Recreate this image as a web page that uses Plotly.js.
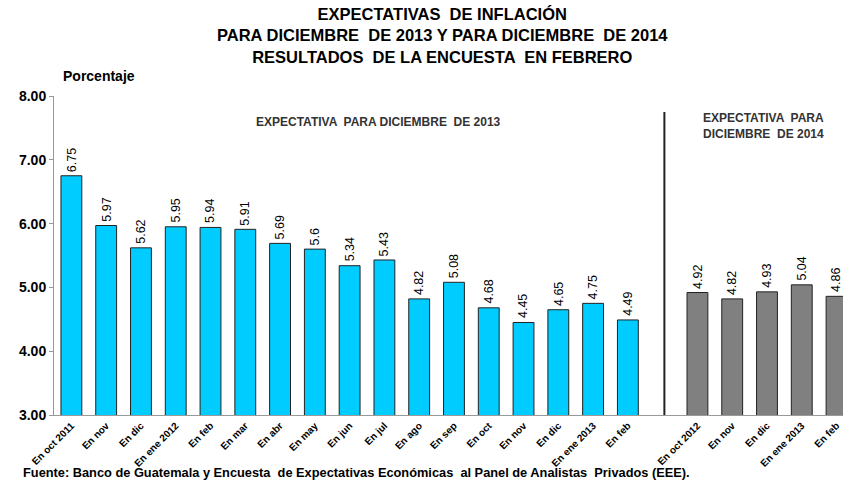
<!DOCTYPE html>
<html>
<head>
<meta charset="utf-8">
<script src="https://cdn.plot.ly/plotly-3.0.1.min.js"></script>
<style>html,body{margin:0;padding:0;background:#fff;}#chart{width:843px;height:481px;}</style>
</head>
<body>
<div id="chart"></div>
<script>
// Expectativa para diciembre de 2013
const labels2013 = ["En oct 2011","En nov","En dic","En ene 2012","En feb","En mar","En abr","En may","En jun","En jul","En ago","En sep","En oct","En nov","En dic","En ene 2013","En feb"];
const values2013 = [6.75,5.97,5.62,5.95,5.94,5.91,5.69,5.6,5.34,5.43,4.82,5.08,4.68,4.45,4.65,4.75,4.49];
// Expectativa para diciembre de 2014
const labels2014 = ["En oct 2012","En nov","En dic","En ene 2013","En feb"];
const values2014 = [4.92,4.82,4.93,5.04,4.86];
const yTicks = [3,4,5,6,7,8];

const FONT = "Liberation Sans, Arial, sans-serif";
const x2013 = labels2013.map((_, i) => i);
const gapSlot = labels2013.length;            // empty slot between groups
const x2014 = labels2014.map((_, i) => gapSlot + 1 + i);

const W = 843, H = 481, mL = 54, mR = 0, mT = 96, mB = 66;
const pw = W - mL - mR, ph = H - mT - mB;
const px2paperX = px => (px - mL) / pw;
const px2paperY = py => (H - mB - py) / ph;

const barStyle = (color) => ({
  color: color,
  line: {color: "#222", width: 1}
});

const traces = [
  {type: "bar", x: x2013, y: values2013, marker: barStyle("#00CCFF"), hoverinfo: "none", showlegend: false},
  {type: "bar", x: x2014, y: values2014, marker: barStyle("#808080"), hoverinfo: "none", showlegend: false}
];

const titleText = "<b>EXPECTATIVAS  DE INFLACIÓN<br>PARA DICIEMBRE  DE 2013 Y PARA DICIEMBRE  DE 2014<br>RESULTADOS  DE LA ENCUESTA  EN FEBRERO</b>";

const annotations = [{
  text: titleText, xref: "paper", yref: "paper",
  x: px2paperX(442), y: px2paperY(35), xanchor: "center", yanchor: "middle",
  align: "center", showarrow: false, font: {family: FONT, size: 16.5, color: "#000"}
}];

annotations.push(
  {text: "<b>Porcentaje</b>", xref: "paper", yref: "paper", x: px2paperX(61), y: px2paperY(76),
   xanchor: "left", yanchor: "middle", showarrow: false, font: {family: FONT, size: 14, color: "#000"}},
  {text: "<b>Fuente: Banco de Guatemala y Encuesta  de Expectativas Económicas  al Panel de Analistas  Privados (EEE).</b>",
   xref: "paper", yref: "paper", x: px2paperX(21), y: px2paperY(472),
   xanchor: "left", yanchor: "middle", showarrow: false, font: {family: FONT, size: 12.8, color: "#000"}},
  {text: "<b>EXPECTATIVA  PARA DICIEMBRE  DE 2013</b>", xref: "paper", yref: "paper",
   x: px2paperX(378), y: px2paperY(122), xanchor: "center", yanchor: "middle", showarrow: false,
   font: {family: FONT, size: 12, color: "#333"}},
  {text: "<b>EXPECTATIVA  PARA<br>DICIEMBRE  DE 2014</b>", xref: "paper", yref: "paper",
   x: px2paperX(763), y: px2paperY(126), xanchor: "center", yanchor: "middle", showarrow: false,
   align: "left", font: {family: FONT, size: 12, color: "#333"}}
);

// value labels above bars, rotated
const addLabels = (xs, vals) => xs.forEach((x, i) => annotations.push({
  text: String(vals[i]), x: x, y: vals[i], xref: "x", yref: "y",
  xanchor: "center", yanchor: "bottom", yshift: 2, textangle: -90,
  showarrow: false, font: {family: FONT, size: 12.5, color: "#000"}
}));
addLabels(x2013, values2013);
addLabels(x2014, values2014);

const layout = {
  width: W, height: H,
  margin: {l: mL, r: mR, t: mT, b: mB, pad: 0},
  paper_bgcolor: "#fff", plot_bgcolor: "#fff",
  bargap: 0.4,
  showlegend: false,
  xaxis: {
    range: [-0.5, (W - mL) / 34.78 - 0.5],
    tickvals: x2013.concat(x2014),
    ticktext: labels2013.concat(labels2014).map(t => "<b>" + t + "</b>"),
    tickangle: -45,
    tickfont: {family: FONT, size: 10, color: "#000"},
    showline: true, linecolor: "#999", linewidth: 1,
    ticks: "", showgrid: false, zeroline: false, fixedrange: true
  },
  yaxis: {
    range: [3, 8],
    tickvals: yTicks,
    ticktext: yTicks.map(v => "<b>" + v.toFixed(2) + "</b>"),
    tickfont: {family: FONT, size: 14, color: "#000"},
    ticks: "outside", ticklen: 4, tickcolor: "#999",
    showline: true, linecolor: "#999", linewidth: 1,
    showgrid: false, zeroline: false, fixedrange: true
  },
  shapes: [{
    type: "line", xref: "x", yref: "paper",
    x0: gapSlot + 0.05, x1: gapSlot + 0.05, y0: 0, y1: px2paperY(112),
    line: {color: "#222", width: 2}
  }],
  annotations: annotations
};

Plotly.newPlot("chart", traces, layout, {displayModeBar: false, staticPlot: true});
</script>
</body>
</html>
